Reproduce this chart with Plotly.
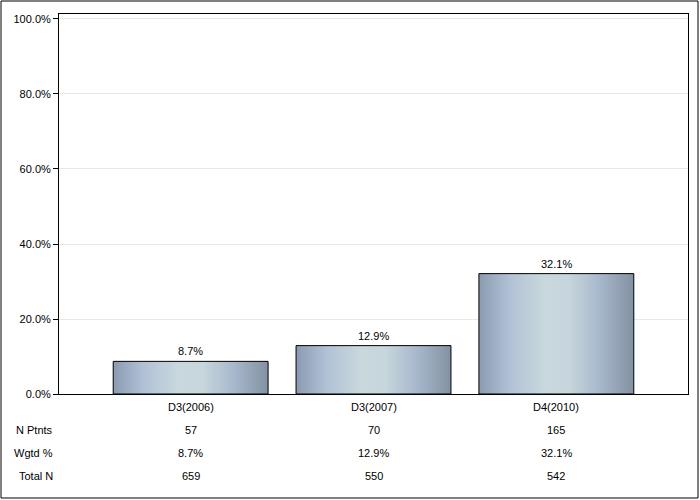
import plotly.graph_objects as go

categories = ["D3(2006)", "D3(2007)", "D4(2010)"]
values = [8.7, 12.9, 32.1]          # percent
n_ptnts = ["57", "70", "165"]
wgtd_pct = ["8.7%", "12.9%", "32.1%"]
total_n = ["659", "550", "542"]
row_labels = ["N Ptnts", "Wgtd %", "Total N"]
y_ticks = [0, 20, 40, 60, 80, 100]

FONT = "Liberation Sans, Arial, sans-serif"
W, H = 700, 500
L, R, T, B = 59, 12, 14, 106
plot_h = H - T - B
plot_w = W - L - R

bar_w = 0.847
grad = [[0.0, "#8a9ab0"], [0.2, "#b2c2d6"], [0.42, "#c8d8dd"], [0.58, "#c6d6dc"],
        [0.78, "#a8b8cc"], [1.0, "#8292a2"]]

fig = go.Figure()
for i, v in enumerate(values):
    x0, x1 = i - bar_w / 2, i + bar_w / 2
    fig.add_trace(go.Scatter(
        x=[x0, x1, x1, x0, x0], y=[0, 0, v, v, 0],
        mode="lines", fill="toself",
        fillgradient=dict(type="horizontal", colorscale=grad),
        line=dict(color="black", width=1),
        hoverinfo="skip", showlegend=False))

annotations = []
for i, v in enumerate(values):
    annotations.append(dict(x=i, y=v, xref="x", yref="y", text=f"{v:.1f}%",
                            showarrow=False, yanchor="bottom", yshift=2,
                            font=dict(family=FONT, size=11, color="black")))

def py(pix):
    return (H - B - pix) / plot_h

def px(pix):
    return (pix - L) / plot_w

rows = [categories, n_ptnts, wgtd_pct, total_n]
row_y = [407, 430, 453, 476]
for r, (vals, yy) in enumerate(zip(rows, row_y)):
    for i, t in enumerate(vals):
        annotations.append(dict(x=i, y=py(yy), xref="x", yref="paper", text=t,
                                showarrow=False, yanchor="middle", xanchor="center",
                                font=dict(family=FONT, size=11, color="black")))
    if r > 0:
        annotations.append(dict(x=px(55), y=py(yy), xref="paper", yref="paper",
                                text=row_labels[r - 1], showarrow=False,
                                xanchor="right", yanchor="middle",
                                font=dict(family=FONT, size=11, color="black")))

shapes = [dict(type="rect", xref="paper", yref="paper",
               x0=px(1), x1=px(698), y0=py(498), y1=py(1),
               line=dict(color="black", width=1), layer="above")]

fig.update_layout(
    width=W, height=H,
    margin=dict(l=L, r=R, t=T, b=B, pad=0),
    paper_bgcolor="white", plot_bgcolor="white",
    font=dict(family=FONT, size=11, color="black"),
    annotations=annotations, shapes=shapes,
    xaxis=dict(range=[-0.72, 2.72], showticklabels=False, ticks="",
               showgrid=False, zeroline=False, showline=True,
               linecolor="black", linewidth=1, mirror=True, fixedrange=True),
    yaxis=dict(range=[0, 101.33], tickvals=y_ticks,
               ticktext=[f"{t:.1f}%" for t in y_ticks],
               ticks="outside", ticklen=5, tickcolor="black",
               showgrid=True, gridcolor="#e8e8e8", gridwidth=1,
               zeroline=False, showline=True, linecolor="black", linewidth=1,
               mirror=True, tickfont=dict(family=FONT, size=11, color="black"),
               fixedrange=True),
)

fig.write_html("out.html")
